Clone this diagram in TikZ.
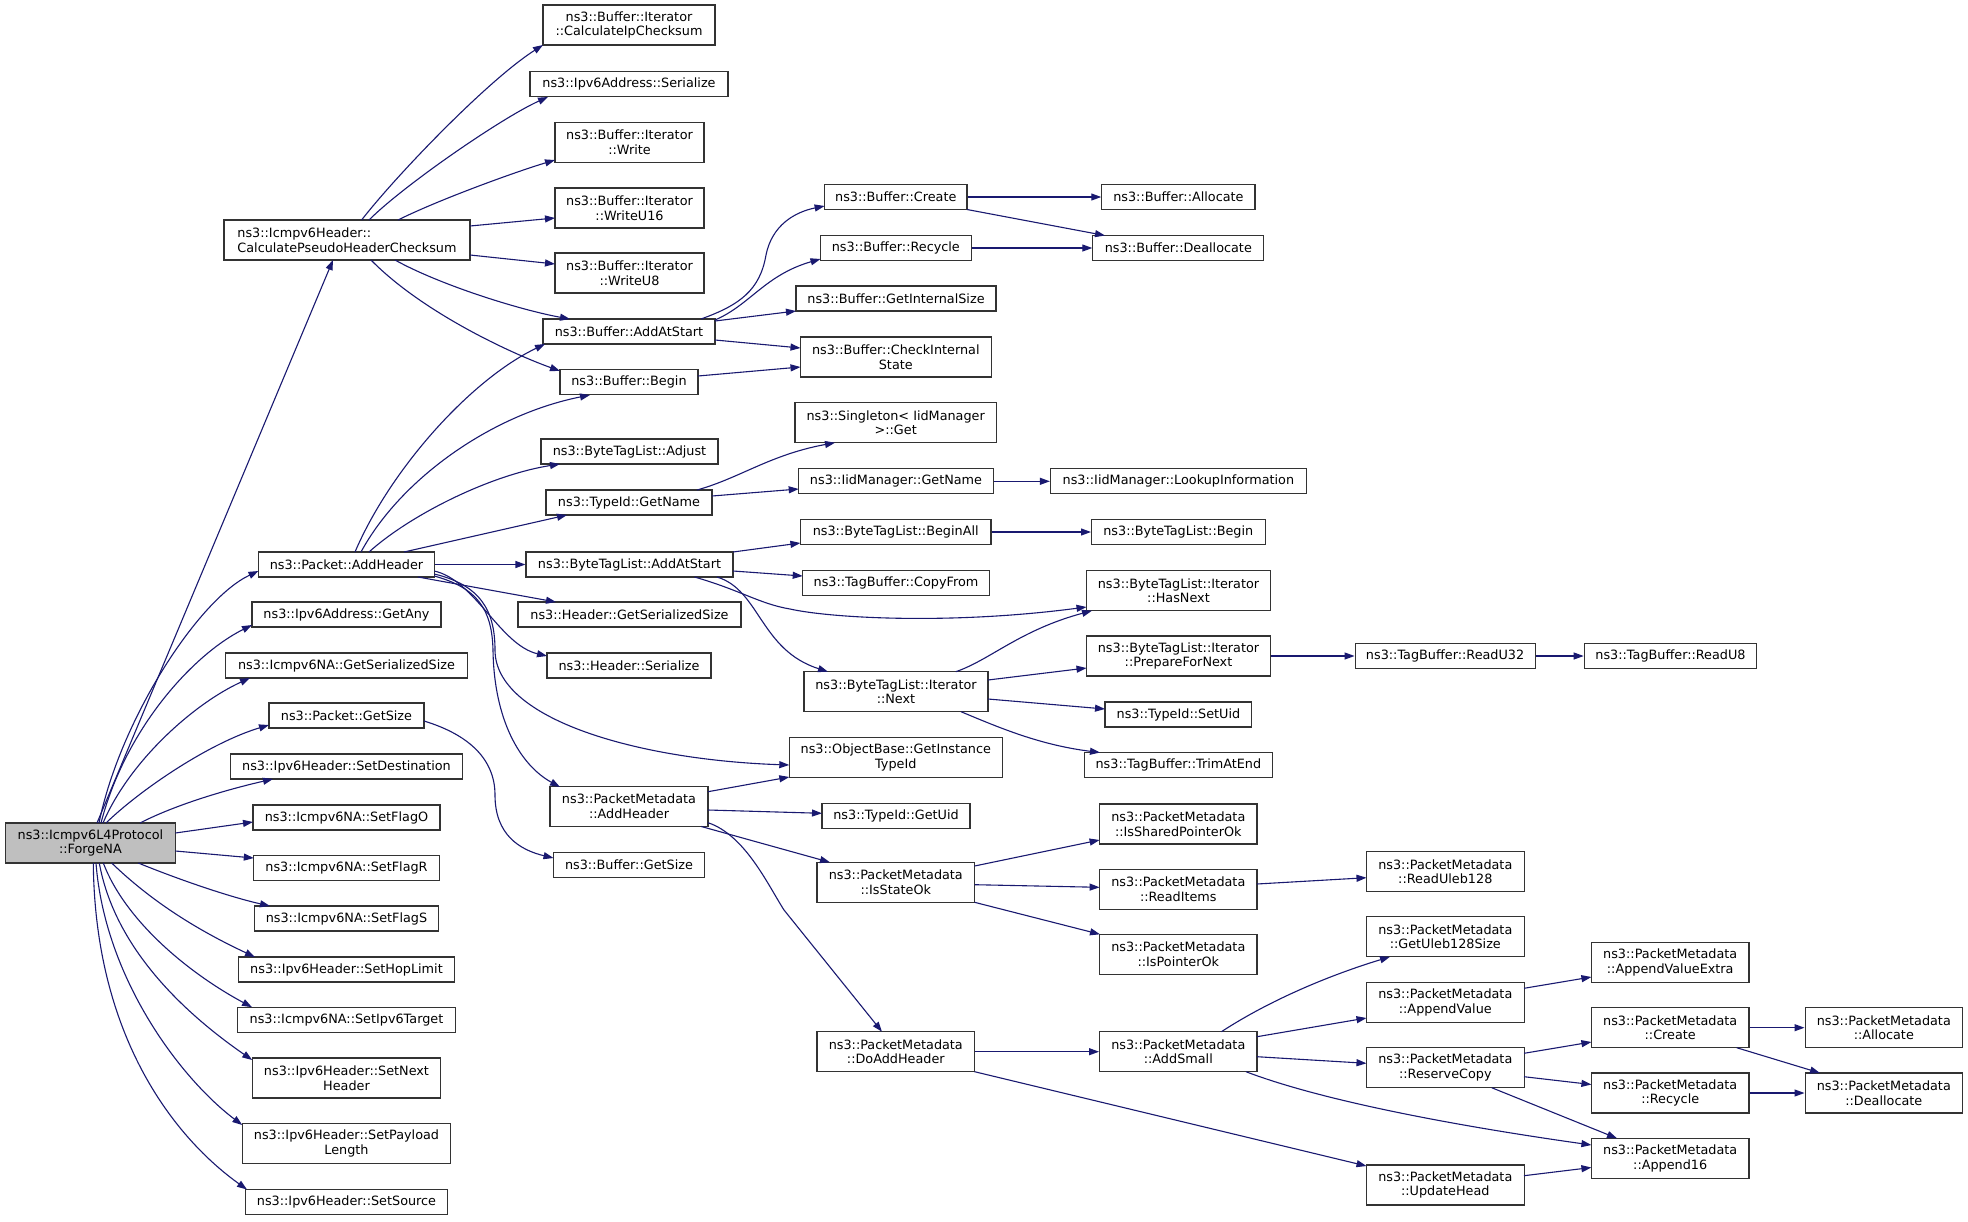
\documentclass[tikz,border=0pt]{standalone}
\usepackage{fontspec}
\setmainfont{DejaVu Sans}
\usetikzlibrary{arrows.meta,calc}
\definecolor{edgec}{HTML}{191970}
\definecolor{boxc}{HTML}{333333}
\definecolor{fillc}{HTML}{BFBFBF}
\tikzset{
  fn/.style={font=\fontsize{12.8pt}{14.7pt}\selectfont},
  box/.style={draw=boxc, line width=1.1pt, fill=white, inner sep=0pt, minimum height=25pt, align=center, fn},
  tall/.style={minimum height=40pt},
  e/.style={draw=edgec, line width=1.1pt, -{Triangle[length=10pt,width=7pt]}},
}
\begin{document}
\begin{tikzpicture}[x=1pt,y=-1pt]
\fill[white] (0,0) rectangle (1968,1221);
% column 0
\node[box,tall,fill=fillc,minimum width=170pt] (forge) at (90.4,843) {ns3::Icmpv6L4Protocol\\::ForgeNA};
% column 1
\node[box,tall,minimum width=246pt,align=left] (cphc) at (347,240) {ns3::Icmpv6Header::\\CalculatePseudoHeaderChecksum};
\node[box,minimum width=175.5pt] (addh) at (346.5,564.5) {ns3::Packet::AddHeader};
\node[box,minimum width=189pt] (getany) at (346.5,614.5) {ns3::Ipv6Address::GetAny};
\node[box,minimum width=242.6pt] (nagss) at (346.5,665.5) {ns3::Icmpv6NA::GetSerializedSize};
\node[box,minimum width=155pt] (pgs) at (346.5,715.5) {ns3::Packet::GetSize};
\node[box,minimum width=232.5pt] (setdest) at (346.5,766.5) {ns3::Ipv6Header::SetDestination};
\node[box,minimum width=187pt] (flago) at (346.5,817.5) {ns3::Icmpv6NA::SetFlagO};
\node[box,minimum width=185.4pt] (flagr) at (346.5,868) {ns3::Icmpv6NA::SetFlagR};
\node[box,minimum width=183.5pt] (flags) at (346.5,918.5) {ns3::Icmpv6NA::SetFlagS};
\node[box,minimum width=216.5pt] (hop) at (346.5,969.5) {ns3::Ipv6Header::SetHopLimit};
\node[box,minimum width=217.5pt] (target) at (346.5,1019.7) {ns3::Icmpv6NA::SetIpv6Target};
\node[box,tall,minimum width=188.6pt] (setnext) at (346.5,1078) {ns3::Ipv6Header::SetNext\\Header};
\node[box,tall,minimum width=208.4pt] (payload) at (346.5,1143.5) {ns3::Ipv6Header::SetPayload\\Length};
\node[box,minimum width=201.8pt] (source) at (346.5,1202) {ns3::Ipv6Header::SetSource};
% column 2
\node[box,tall,minimum width=172pt] (ipcs) at (629,25) {ns3::Buffer::Iterator\\::CalculateIpChecksum};
\node[box,minimum width=198pt] (v6ser) at (629,84) {ns3::Ipv6Address::Serialize};
\node[box,tall,minimum width=149pt] (write) at (629.5,142.5) {ns3::Buffer::Iterator\\::Write};
\node[box,tall,minimum width=149pt] (wu16) at (629.5,208) {ns3::Buffer::Iterator\\::WriteU16};
\node[box,tall,minimum width=149pt] (wu8) at (629.5,273) {ns3::Buffer::Iterator\\::WriteU8};
\node[box,minimum width=172pt] (baas) at (629,331.5) {ns3::Buffer::AddAtStart};
\node[box,minimum width=138pt] (bbegin) at (629,382) {ns3::Buffer::Begin};
\node[box,minimum width=177pt] (adjust) at (629.5,451.5) {ns3::ByteTagList::Adjust};
\node[box,minimum width=166pt] (tgetname) at (629,502.5) {ns3::TypeId::GetName};
\node[box,minimum width=207pt] (btlaas) at (629.5,564.5) {ns3::ByteTagList::AddAtStart};
\node[box,minimum width=223pt] (hgss) at (629.5,614.5) {ns3::Header::GetSerializedSize};
\node[box,minimum width=164pt] (hser) at (629,665.5) {ns3::Header::Serialize};
\node[box,tall,minimum width=158pt] (pmaddh) at (629,806.5) {ns3::PacketMetadata\\::AddHeader};
\node[box,minimum width=151pt] (bgetsize) at (629,865) {ns3::Buffer::GetSize};
% column 3
\node[box,minimum width=142.4pt] (bcreate) at (895.8,197) {ns3::Buffer::Create};
\node[box,minimum width=150.5pt] (brecycle) at (895.8,248) {ns3::Buffer::Recycle};
\node[box,minimum width=200pt] (bgis) at (896,298.5) {ns3::Buffer::GetInternalSize};
\node[box,tall,minimum width=190.6pt] (bcis) at (895.8,357) {ns3::Buffer::CheckInternal\\State};
\node[box,tall,minimum width=201.4pt] (singleton) at (895.7,422.7) {ns3::Singleton< IidManager\\ >::Get};
\node[box,minimum width=194.6pt] (iidname) at (896,481.3) {ns3::IidManager::GetName};
\node[box,minimum width=190.6pt] (beginall) at (895.7,532) {ns3::ByteTagList::BeginAll};
\node[box,minimum width=186.6pt] (copyfrom) at (896,582.7) {ns3::TagBuffer::CopyFrom};
\node[box,tall,minimum width=184pt] (itnext) at (896,691.7) {ns3::ByteTagList::Iterator\\::Next};
\node[box,tall,minimum width=213pt] (getinst) at (895.8,757.3) {ns3::ObjectBase::GetInstance\\TypeId};
\node[box,minimum width=148pt] (getuid) at (896,816) {ns3::TypeId::GetUid};
\node[box,tall,minimum width=157.6pt] (isstate) at (895.8,882.3) {ns3::PacketMetadata\\::IsStateOk};
\node[box,tall,minimum width=157.6pt] (doaddh) at (895.8,1051.7) {ns3::PacketMetadata\\::DoAddHeader};
% column 4
\node[box,minimum width=153.2pt] (balloc) at (1178.4,197) {ns3::Buffer::Allocate};
\node[box,minimum width=170.9pt] (bdealloc) at (1178.3,248) {ns3::Buffer::Deallocate};
\node[box,minimum width=256pt] (lookup) at (1178.4,481.3) {ns3::IidManager::LookupInformation};
\node[box,minimum width=173.5pt] (btlbegin) at (1178.3,532) {ns3::ByteTagList::Begin};
\node[box,tall,minimum width=184pt] (hasnext) at (1178.5,590.7) {ns3::ByteTagList::Iterator\\::HasNext};
\node[box,tall,minimum width=184pt] (prepare) at (1178.5,656) {ns3::ByteTagList::Iterator\\::PrepareForNext};
\node[box,minimum width=146.8pt] (setuid) at (1178.4,714.5) {ns3::TypeId::SetUid};
\node[box,minimum width=188pt] (trim) at (1178.4,765) {ns3::TagBuffer::TrimAtEnd};
\node[box,tall,minimum width=157.4pt] (isshared) at (1178.3,824) {ns3::PacketMetadata\\::IsSharedPointerOk};
\node[box,tall,minimum width=157.4pt] (readitems) at (1178.3,889.3) {ns3::PacketMetadata\\::ReadItems};
\node[box,tall,minimum width=157.4pt] (isptr) at (1178.3,954.3) {ns3::PacketMetadata\\::IsPointerOk};
\node[box,tall,minimum width=157.4pt] (addsmall) at (1178.3,1051.7) {ns3::PacketMetadata\\::AddSmall};
% column 5
\node[box,minimum width=180pt] (readu32) at (1445.1,656) {ns3::TagBuffer::ReadU32};
\node[box,tall,minimum width=157.6pt] (readuleb) at (1445.3,871.7) {ns3::PacketMetadata\\::ReadUleb128};
\node[box,tall,minimum width=157.6pt] (getuleb) at (1445.3,936.8) {ns3::PacketMetadata\\::GetUleb128Size};
\node[box,tall,minimum width=157.6pt] (appval) at (1445.3,1002.3) {ns3::PacketMetadata\\::AppendValue};
\node[box,tall,minimum width=157.6pt] (rescopy) at (1445.3,1067.7) {ns3::PacketMetadata\\::ReserveCopy};
\node[box,tall,minimum width=157.6pt] (updhead) at (1445.3,1185) {ns3::PacketMetadata\\::UpdateHead};
% column 6
\node[box,minimum width=172.6pt] (readu8) at (1670.5,656) {ns3::TagBuffer::ReadU8};
\node[box,tall,minimum width=157.6pt] (avextra) at (1670.2,962.5) {ns3::PacketMetadata\\::AppendValueExtra};
\node[box,tall,minimum width=157.6pt] (pmcreate) at (1670.2,1027.7) {ns3::PacketMetadata\\::Create};
\node[box,tall,minimum width=157.6pt] (pmrecycle) at (1670.2,1093) {ns3::PacketMetadata\\::Recycle};
\node[box,tall,minimum width=157.6pt] (append16) at (1670.2,1158.3) {ns3::PacketMetadata\\::Append16};
% column 7
\node[box,tall,minimum width=157.5pt] (pmalloc) at (1883.8,1027.7) {ns3::PacketMetadata\\::Allocate};
\node[box,tall,minimum width=157.5pt] (pmdealloc) at (1883.8,1093) {ns3::PacketMetadata\\::Deallocate};

% ---- edges from ForgeNA
\draw[e] ($(forge.center)+(6.6,-20)$) -- ($(cphc.center)+(-14,20)$);
\draw[e] ($(forge.center)+(8.6,-20)$) .. controls +(21,-103) and +(-60,28) .. ($(addh.center)+(-88,6.5)$);
\draw[e] ($(forge.center)+(10.6,-20)$) .. controls +(24,-93) and +(-60,30) .. ($(getany.center)+(-94.5,10.5)$);
\draw[e] ($(forge.center)+(12.6,-20)$) .. controls +(27,-63) and +(-55,25) .. ($(nagss.center)+(-96.5,12.5)$);
\draw[e] ($(forge.center)+(15.6,-20)$) .. controls +(34,-33) and +(-60,18) .. ($(pgs.center)+(-77.5,9.5)$);
\draw[e] ($(forge.center)+(49.6,-20)$) .. controls +(35,-18) and +(-48,11) .. ($(setdest.center)+(-73.5,12.5)$);
\draw[e] ($(forge.center)+(85,-10)$) -- ($(flago.center)+(-93.5,4.5)$);
\draw[e] ($(forge.center)+(85,8)$) -- ($(flagr.center)+(-92.7,-10)$);
\draw[e] ($(forge.center)+(47.9,20)$) .. controls +(41.7,17) and +(-40,-9) .. ($(flags.center)+(-76.5,-12.5)$);
\draw[e] ($(forge.center)+(21.3,20)$) .. controls +(38.3,37) and +(-60,-28) .. ($(hop.center)+(-91.5,-12.5)$);
\draw[e] ($(forge.center)+(12.9,20)$) .. controls +(21.7,57) and +(-65,-35) .. ($(target.center)+(-94.5,-12.5)$);
\draw[e] ($(forge.center)+(8.9,20)$) .. controls +(15.7,87) and +(-65,-45) .. ($(setnext.center)+(-94.3,-18)$);
\draw[e] ($(forge.center)+(5.6,20)$) .. controls +(9,117) and +(-60,-45) .. ($(payload.center)+(-104.2,-18.5)$);
\draw[e] ($(forge.center)+(2.9,20)$) .. controls +(1.7,177) and +(-70,-50) .. ($(source.center)+(-99.5,-12.5)$);
% ---- from CalculatePseudoHeaderChecksum
\draw[e] ($(cphc.center)+(14.6,-20)$) .. controls +(35,-45) and +(-55,35) .. ($(ipcs.center)+(-86,20)$);
\draw[e] ($(cphc.center)+(22,-20)$) .. controls +(35,-35) and +(-45,20) .. ($(v6ser.center)+(-81,13)$);
\draw[e] ($(cphc.center)+(51,-20)$) .. controls +(40,-20) and +(-40,12) .. ($(write.center)+(-74.5,17.5)$);
\draw[e] ($(cphc.center)+(123,-14)$) -- ($(wu16.center)+(-74.5,10)$);
\draw[e] ($(cphc.center)+(123,15)$) -- ($(wu8.center)+(-74.5,-9)$);
\draw[e] ($(cphc.center)+(48,20)$) .. controls +(45,25) and +(-50,-9) .. ($(baas.center)+(-59,-12.5)$);
\draw[e] ($(cphc.center)+(24,20)$) .. controls +(49,50) and +(-55,-20) .. ($(bbegin.center)+(-69,-11)$);
% ---- from Packet::AddHeader
\draw[e] ($(addh.center)+(8.5,-12.5)$) .. controls +(35,-82) and +(-75,36) .. ($(baas.center)+(-84,12.5)$);
\draw[e] ($(addh.center)+(14.5,-12.5)$) .. controls +(39,-72) and +(-100,20) .. ($(bbegin.center)+(-39,13)$);
\draw[e] ($(addh.center)+(22.5,-12.5)$) .. controls +(41,-37) and +(-70,11) .. ($(adjust.center)+(-69.5,12.5)$);
\draw[e] ($(addh.center)+(57.5,-12.5)$) -- ($(tgetname.center)+(-62,12.5)$);
\draw[e] (addh.east) -- (btlaas.west);
\draw[e] ($(addh.center)+(71.5,12.5)$) -- ($(hgss.center)+(-73.5,-12.5)$);
\draw[e] ($(addh.center)+(87.75,6.5)$) .. controls +(40.75,9) and +(-47,-11) .. ($(hser.center)+(-82,-9.5)$);
\draw[e] ($(addh.center)+(87.75,9.5)$) .. controls (480,585) and (495,610) .. (495,650) .. controls (495,720) and (640,760) .. ($(getinst.center)+(-106.5,7.7)$);
\draw[e] ($(addh.center)+(87.75,11.5)$) .. controls (478,588) and (492,610) .. (493,650) .. controls (494,720) and (520,765) .. ($(pmaddh.center)+(-69,-19.5)$);
\draw[e] ($(pgs.center)+(77.5,5.5)$) .. controls (470,735) and (495,760) .. (495,795) .. controls (495,835) and (520,850) .. ($(bgetsize.center)+(-75.5,-7)$);
% ---- from Buffer::AddAtStart / Begin
\draw[e] ($(baas.center)+(72,-12.5)$) .. controls (740,305) and (760,290) .. (766,255) .. controls (772,225) and (795,212) .. ($(bcreate.center)+(-71.2,9)$);
\draw[e] ($(baas.center)+(86,-11.5)$) .. controls (750,305) and (765,275) .. ($(brecycle.center)+(-75.3,11)$);
\draw[e] ($(baas.center)+(86,-10.5)$) -- ($(bgis.center)+(-100,12.5)$);
\draw[e] ($(baas.center)+(86,8.5)$) -- ($(bcis.center)+(-95.3,-9)$);
\draw[e] ($(bbegin.center)+(69,-6)$) -- ($(bcis.center)+(-95.3,10)$);
\draw[e] (bcreate.east) -- (balloc.west);
\draw[e] ($(bcreate.center)+(71.2,12.5)$) -- ($(bdealloc.center)+(-73.3,-12.5)$);
\draw[e] (brecycle.east) -- (bdealloc.west);
% ---- from TypeId::GetName
\draw[e] ($(tgetname.center)+(68,-12.5)$) .. controls +(43,-12) and +(-65,12) .. ($(singleton.center)+(-60.7,20)$);
\draw[e] ($(tgetname.center)+(83,-6.5)$) -- ($(iidname.center)+(-97.3,7.7)$);
\draw[e] (iidname.east) -- (lookup.west);
% ---- from ByteTagList::AddAtStart
\draw[e] ($(btlaas.center)+(103.5,-12.5)$) -- ($(beginall.center)+(-95.3,11)$);
\draw[e] ($(btlaas.center)+(103.5,6.5)$) -- ($(copyfrom.center)+(-93.3,-6.7)$);
\draw[e] ($(btlaas.center)+(65,12.5)$) .. controls (740,590) and (760,604) .. (790,609) .. controls (830,618) and (950,625) .. ($(hasnext.center)+(-92,16.3)$);
\draw[e] ($(btlaas.center)+(87.5,12.5)$) .. controls (760,590) and (760,650) .. ($(itnext.center)+(-68,-20)$);
\draw[e] (beginall.east) -- (btlbegin.west);
% ---- from Iterator::Next
\draw[e] ($(itnext.center)+(59.8,-20)$) .. controls (990,660) and (1020,630) .. ($(hasnext.center)+(-86.5,20)$);
\draw[e] ($(itnext.center)+(92,-11.7)$) -- ($(prepare.center)+(-92,12)$);
\draw[e] ($(itnext.center)+(92,7.3)$) -- ($(setuid.center)+(-73.4,-5.5)$);
\draw[e] ($(itnext.center)+(65,20)$) .. controls (1000,728) and (1040,745) .. ($(trim.center)+(-78.4,-12.5)$);
\draw[e] (prepare.east) -- (readu32.west);
\draw[e] (readu32.east) -- (readu8.west);
% ---- from PacketMetadata::AddHeader
\draw[e] ($(pmaddh.center)+(79,-14.8)$) -- ($(getinst.center)+(-106.5,19.7)$);
\draw[e] ($(pmaddh.center)+(79,3.5)$) -- ($(getuid.center)+(-74,-2.7)$);
\draw[e] ($(pmaddh.center)+(72.3,20)$) -- ($(isstate.center)+(-65.8,-20)$);
\draw[e] ($(pmaddh.center)+(79,16.2)$) .. controls (745,835) and (768,885) .. (784,910) -- ($(doaddh.center)+(-13.8,-20)$);
% ---- from IsStateOk
\draw[e] ($(isstate.center)+(78.8,-16.3)$) -- ($(isshared.center)+(-78.7,16)$);
\draw[e] ($(isstate.center)+(78.8,2.4)$) -- ($(readitems.center)+(-78.7,-2)$);
\draw[e] ($(isstate.center)+(78.8,20)$) -- ($(isptr.center)+(-78.3,-20)$);
\draw[e] ($(readitems.center)+(78.7,-5.3)$) -- ($(readuleb.center)+(-78.8,6)$);
% ---- from DoAddHeader
\draw[e] (doaddh.east) -- (addsmall.west);
\draw[e] ($(doaddh.center)+(78.8,20)$) -- ($(updhead.center)+(-78.8,-19)$);
% ---- from AddSmall
\draw[e] ($(addsmall.center)+(43.1,-20)$) .. controls +(48.6,-31.7) and +(-60,18.2) .. ($(getuleb.center)+(-55.3,20)$);
\draw[e] ($(addsmall.center)+(78.7,-15)$) -- ($(appval.center)+(-78.8,15.7)$);
\draw[e] ($(addsmall.center)+(78.7,5)$) -- ($(rescopy.center)+(-78.8,-4.4)$);
\draw[e] ($(addsmall.center)+(67.7,20)$) .. controls +(74,28.3) and +(-141.4,-20) .. ($(append16.center)+(-78.8,-13.3)$);
% ---- column 5 -> 6 -> 7
\draw[e] ($(appval.center)+(78.7,-14)$) -- ($(avextra.center)+(-78.8,14.5)$);
\draw[e] ($(rescopy.center)+(78.7,-14.4)$) -- ($(pmcreate.center)+(-78.8,14.3)$);
\draw[e] ($(rescopy.center)+(78.7,9)$) -- ($(pmrecycle.center)+(-78.8,-8.5)$);
\draw[e] ($(rescopy.center)+(46.4,20)$) -- ($(append16.center)+(-53.2,-20)$);
\draw[e] ($(updhead.center)+(78.7,-9.3)$) -- ($(append16.center)+(-78.8,9.2)$);
\draw[e] (pmcreate.east) -- (pmalloc.west);
\draw[e] ($(pmcreate.center)+(66.5,20)$) -- ($(pmdealloc.center)+(-63.8,-20)$);
\draw[e] (pmrecycle.east) -- (pmdealloc.west);
\end{tikzpicture}
\end{document}
